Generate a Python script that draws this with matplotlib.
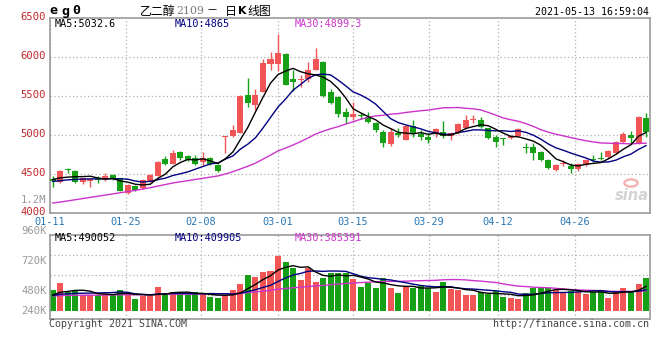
import numpy as np
import pandas as pd
import matplotlib
matplotlib.use("Agg")
import matplotlib.pyplot as plt
from matplotlib.patches import Circle
from matplotlib.transforms import ScaledTranslation

# ---------------- data ----------------
opens = [4436, 4401, 4558, 4538, 4394, 4414, 4436, 4423, 4487, 4445,
         4260, 4346, 4317, 4401, 4478, 4692, 4628, 4778, 4731, 4709,
         4650, 4701, 4615, 4968, 4987, 5029, 5513, 5385, 5555, 5910,
         5910, 6038, 5714, 5708, 5714, 5833, 5940, 5547, 5491, 5299,
         5235, 5247, 5237, 5154, 5042, 4885, 5026, 4942, 5115, 5019,
         4974, 5022, 5042, 4987, 5022, 5086, 5186, 5188, 5086, 4971,
         4955, 4958, 4981, 4840, 4846, 4786, 4680, 4551, 4631, 4603,
         4558, 4615, 4686, 4701, 4714, 4765, 4910, 4994, 4897, 5214]
highs = [4474, 4551, 4577, 4551, 4455, 4442, 4478, 4516, 4500, 4455,
         4372, 4359, 4436, 4500, 4667, 4731, 4808, 4795, 4744, 4744,
         4786, 4718, 4628, 4987, 5128, 5513, 5727, 5586, 5970, 6068,
         6291, 6045, 5833, 5769, 5940, 6111, 5955, 5590, 5500, 5346,
         5419, 5278, 5299, 5171, 5064, 5086, 5086, 5128, 5192, 5064,
         5022, 5086, 5183, 5038, 5154, 5256, 5256, 5235, 5096, 5000,
         4962, 5000, 5086, 4897, 4897, 4801, 4692, 4628, 4680, 4641,
         4641, 4692, 4744, 4782, 4808, 4923, 5035, 5051, 5247, 5282]
lows = [4330, 4391, 4509, 4385, 4372, 4338, 4381, 4410, 4423, 4276,
        4244, 4282, 4308, 4397, 4474, 4615, 4622, 4680, 4667, 4615,
        4615, 4615, 4532, 4773, 4974, 5026, 5359, 5321, 5545, 5833,
        5824, 5635, 5568, 5619, 5683, 5827, 5487, 5397, 5227, 5150,
        5192, 5209, 5158, 5042, 4842, 4859, 4978, 4936, 4978, 4936,
        4901, 4978, 4958, 4936, 5013, 5077, 5158, 5086, 4955, 4850,
        4872, 4949, 4974, 4769, 4680, 4667, 4564, 4538, 4603, 4513,
        4538, 4603, 4654, 4680, 4705, 4756, 4901, 4885, 4891, 4974]
closes = [4410, 4538, 4545, 4394, 4445, 4436, 4426, 4474, 4436, 4282,
          4359, 4295, 4423, 4487, 4658, 4628, 4765, 4701, 4680, 4628,
          4701, 4624, 4542, 4987, 5064, 5500, 5414, 5513, 5927, 5970,
          6047, 5641, 5684, 5718, 5833, 5974, 5500, 5410, 5269, 5235,
          5269, 5240, 5167, 5064, 4897, 5042, 5000, 5115, 5022, 4974,
          4936, 5073, 4991, 5022, 5141, 5192, 5195, 5103, 4962, 4914,
          4945, 4987, 5077, 4827, 4773, 4680, 4577, 4615, 4641, 4558,
          4628, 4680, 4676, 4692, 4799, 4914, 5013, 4958, 5235, 5042]
volumes = [413, 555, 374, 388, 316, 316, 316, 336, 336, 413,
           336, 239, 297, 297, 471, 361, 380, 336, 310, 374,
           336, 283, 264, 297, 413, 524, 704, 671, 768, 782,
           1079, 962, 834, 607, 834, 574, 640, 737, 749, 737,
           627, 477, 543, 458, 652, 458, 361, 491, 458, 491,
           458, 380, 574, 427, 413, 310, 310, 380, 336, 394,
           272, 264, 244, 361, 446, 446, 446, 413, 380, 394,
           380, 336, 380, 394, 264, 380, 452, 400, 530, 652]  # thousand lots

# moving-average values before a full window exists
ma5_head = [4430, 4450, 4460, 4465]
ma10_head = [4405, 4415, 4425, 4430, 4435, 4437, 4438, 4439, 4440]
ma30_head = [4128, 4140, 4155, 4170, 4185, 4200, 4215, 4230, 4245, 4260,
             4275, 4290, 4308, 4325, 4345, 4365, 4385, 4400, 4415, 4430,
             4445, 4460, 4475, 4500, 4530, 4565, 4600, 4640, 4690]
vma5_head = [317, 369, 386, 405]
vma10_head = [305, 331, 339, 349, 351, 353, 356, 360, 364]
vma30_head = [297, 306, 308, 312, 312, 313, 314, 315, 317, 321,
              322, 320, 320, 321, 327, 329, 332, 333, 334, 336,
              338, 338, 337, 337, 341, 348, 362, 375, 391]

date_labels = ["01-11", "01-25", "02-08", "03-01", "03-15", "03-29", "04-12", "04-26"]
date_pos = [-0.35, 9.7, 19.75, 29.95, 40.0, 50.1, 59.3, 69.5]
price_ticks = [4000, 4500, 5000, 5500, 6000, 6500]
price_grid = [4500, 5000, 5500, 6000]
vol_grid = [310, 698, 1086]
vol_labels = ["960K", "720K", "480K", "240K"]
vol_label_px = [230.7, 261.5, 291.0, 310.7]

# ---------------- helpers ----------------
def with_head(series, head, window):
    s = pd.Series(series, dtype=float).rolling(window).mean()
    s.iloc[:len(head)] = head
    return s.values

n = len(closes)
x = np.arange(n)
o = np.array(opens, float); h = np.array(highs, float)
l = np.array(lows, float); c = np.array(closes, float)
v = np.array(volumes, float) * 1000
up = c >= o

RED = "#f25555"
GREEN = "#15a015"
MAGENTA = "#cc33cc"
NAVY = "#000080"
FRAME = "#9a9a9a"
GRIDC = "#b0b0b0"

W, H = 660, 360
fig = plt.figure(figsize=(W / 100, H / 100), dpi=100)
fig.patch.set_facecolor("white")

def fx(px):
    return px / W

def fy(py):
    return 1 - py / H

MONO = "DejaVu Sans Mono"
CJK = ["Noto Sans CJK SC", "DejaVu Sans"]

# ---------------- price panel ----------------
ax = fig.add_axes([fx(50), fy(213), 600 / W, (213 - 18) / H])
ax.set_xlim(-0.36, 79.53)
ax.set_ylim(4000, 6500)

for xp in date_pos:
    ax.axvline(xp, color=GRIDC, lw=0.9, ls=(0, (1, 2)), zorder=0)
for yp in price_grid:
    ax.axhline(yp, color=GRIDC, lw=0.9, ls=(0, (1, 2)), zorder=0)

cols = np.where(up, RED, GREEN)
ax.vlines(x, l, h, colors=cols, lw=1.0, zorder=2)
body_lo = np.minimum(o, c)
body_h = np.maximum(np.abs(c - o), 13)
ax.bar(x, body_h, bottom=body_lo, width=0.8, color=cols, lw=0, zorder=3)

ma5 = with_head(closes, ma5_head, 5)
ma10 = with_head(closes, ma10_head, 10)
ma30 = with_head(closes, ma30_head, 30)
ax.plot(x, ma30, color=MAGENTA, lw=1.0, zorder=4)
ax.plot(x, ma10, color=NAVY, lw=1.0, zorder=4)
ax.plot(x, ma5, color="black", lw=1.0, zorder=4)

ax.set_yticks(price_ticks)
ax.set_yticklabels([str(t) for t in price_ticks], family=MONO, fontsize=7.6, color="#c0282d")
ax.set_xticks(date_pos)
ax.set_xticklabels(date_labels, family=MONO, fontsize=7.4, color="#2a77b5")
ax.tick_params(length=0, pad=3)
ax.tick_params(axis="x", pad=2.6)
up_shift = ScaledTranslation(0, 1.6 / 100, fig.dpi_scale_trans)
for lab in ax.get_yticklabels():
    lab.set_transform(lab.get_transform() + up_shift)
for sp in ax.spines.values():
    sp.set_color(FRAME)
    sp.set_linewidth(1.2)

fig.text(fx(46), fy(200), "1.2M", family=MONO, fontsize=7.6, color="#999999",
         ha="right", va="center")

# legend texts
fig.text(fx(55), fy(24), "MA5:5032.6", family=MONO, fontsize=7.3, color="black", va="center")
fig.text(fx(175), fy(24), "MA10:4865", family=MONO, fontsize=7.3, color=NAVY, va="center")
fig.text(fx(295), fy(24), "MA30:4899.3", family=MONO, fontsize=7.3, color=MAGENTA, va="center")

# sina watermark
fig.text(fx(632), fy(196), "sina", family="DejaVu Sans", fontsize=10.5, style="italic",
         weight="bold", color="#d3d3d3", ha="center", va="center", zorder=1)
fig.patches.append(Circle((fx(631), fy(183)), 0.010, transform=fig.transFigure,
                          facecolor="none", edgecolor="#f3b4b4", lw=1.8))

# ---------------- volume panel ----------------
axv = fig.add_axes([fx(50), fy(318.7), 600 / W, (318.7 - 234.7) / H])
axv.set_xlim(-0.36, 79.53)
kpx = 19400.0
axv.set_ylim(-7.4 * kpx, 76.6 * kpx)
for xp in date_pos:
    axv.axvline(xp, color=GRIDC, lw=0.9, ls=(0, (1, 2)), zorder=0)
for yp in vol_grid:
    axv.axhline(yp * 1000, color=GRIDC, lw=0.9, ls=(0, (1, 2)), zorder=0)
axv.bar(x, v, width=0.8, color=cols, lw=0, zorder=2)
vma5 = with_head(v, [a * 1000 for a in vma5_head], 5)
vma10 = with_head(v, [a * 1000 for a in vma10_head], 10)
vma30 = with_head(v, [a * 1000 for a in vma30_head], 30)
axv.plot(x, vma30, color=MAGENTA, lw=1.0, zorder=3)
axv.plot(x, vma10, color=NAVY, lw=1.0, zorder=3)
axv.plot(x, vma5, color="black", lw=1.0, zorder=3)
axv.set_xticks([])
axv.set_yticks([])
for sp in axv.spines.values():
    sp.set_color(FRAME)
    sp.set_linewidth(1.2)

for lab, py in zip(vol_labels, vol_label_px):
    fig.text(fx(46.5), fy(py), lab, family=MONO, fontsize=7.6, color="#9a9a9a",
             ha="right", va="center")

fig.text(fx(55), fy(238), "MA5:490052", family=MONO, fontsize=7.3, color="black", va="center")
fig.text(fx(175), fy(238), "MA10:409905", family=MONO, fontsize=7.3, color=NAVY, va="center")
fig.text(fx(295), fy(238), "MA30:385391", family=MONO, fontsize=7.3, color=MAGENTA, va="center")

# ---------------- header / footer ----------------
for ch, px in zip(["e", "g", "0"], [53, 65.5, 76.5]):
    fig.text(fx(px), fy(11), ch, family=MONO, fontsize=9.6, weight="bold",
             color="black", ha="center", va="center")
fig.text(fx(140), fy(11), "乙二醇", family=CJK, fontsize=8.6, color="black", va="center")
fig.text(fx(176), fy(11), "2109", family="DejaVu Serif", fontsize=7.8, color="#7a7a7a", va="center")
fig.text(fx(206), fy(11), "－", family=CJK, fontsize=8.0, color="black", va="center")
fig.text(fx(225), fy(11), "日", family=CJK, fontsize=8.6, color="black", va="center")
fig.text(fx(238), fy(11), "K", family="DejaVu Sans", fontsize=8.0, weight="bold",
         color="black", va="center")
fig.text(fx(247), fy(11), "线图", family=CJK, fontsize=8.6, color="black", va="center")
fig.text(fx(649), fy(12), "2021-05-13 16:59:04", family=MONO, fontsize=7.2,
         color="black", ha="right", va="center")

fig.text(fx(49), fy(324), "Copyright 2021 SINA.COM", family=MONO, fontsize=7.2,
         color="#444444", va="center")
fig.text(fx(649), fy(324), "http://finance.sina.com.cn", family=MONO, fontsize=7.2,
         color="#444444", ha="right", va="center")

fig.savefig("out.png", dpi=100)
